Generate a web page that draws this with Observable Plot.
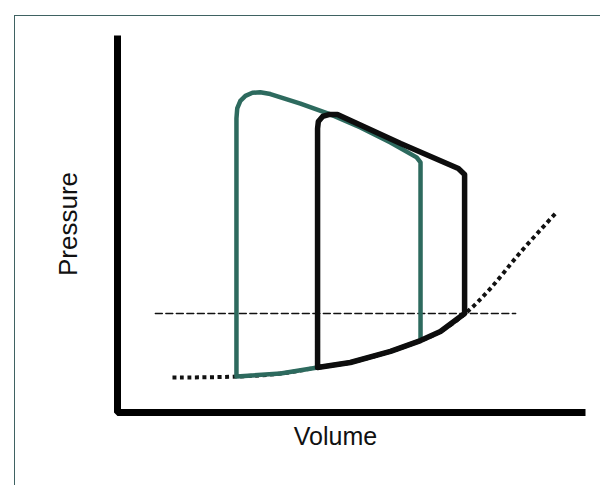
<!DOCTYPE html>
<html>
<head>
<meta charset="utf-8">
<script src="https://cdn.jsdelivr.net/npm/d3@7"></script>
<script src="https://cdn.jsdelivr.net/npm/@observablehq/plot@0.6"></script>
<style>
  html, body { margin: 0; padding: 0; background: #fff; overflow: hidden; }
  #wrap { position: relative; width: 600px; height: 485px; overflow: hidden; background: #fff; }
  #border { position: absolute; left: 14px; top: 15px; width: 700px; height: 700px;
            border-left: 1.5px solid #3f6262; border-top: 1.5px solid #3f6262; pointer-events: none; }
  #chart { position: absolute; left: 0; top: 0; }
</style>
</head>
<body>
<div id="wrap"><div id="border"></div><div id="chart"></div></div>
<script>
// End-diastolic pressure-volume relation (dotted curve)
const edpvrVolume   = [14.1, 30.5, 41.8, 51.3, 59.7, 70.0, 77.7, 82.8, 89.2, 95.6, 103.3, 112.3];
const edpvrPressure = [13.9, 14.3, 15.5, 17.9, 19.9, 24.3, 28.6, 32.2, 39.4, 49.3, 63.7, 79.2];

// Green (teal) loop
const greenVolume   = [30.5, 30.5, 30.7, 31.5, 32.8, 34.6, 36.6, 39.2, 46.9, 54.6, 62.3, 70.0, 76.7, 77.7, 77.7, 70.0, 59.7, 51.3, 41.8, 30.5];
const greenPressure = [14.3, 117.0, 121.0, 124.0, 126.0, 127.2, 127.4, 126.7, 122.9, 118.6, 113.4, 107.4, 101.5, 99.5, 28.6, 24.3, 19.9, 17.9, 15.5, 14.3];

// Black loop
const blackVolume   = [51.3, 51.3, 51.5, 52.6, 54.4, 56.4, 72.6, 87.4, 89.0, 89.0, 82.8, 77.7, 70.0, 59.7, 51.3];
const blackPressure = [17.9, 113.0, 115.8, 117.8, 118.6, 118.6, 107.0, 97.1, 94.7, 39.4, 32.2, 28.6, 24.3, 19.9, 17.9];

// Dashed reference pressure level
const dashedVolume   = [9.7, 102.1];
const dashedPressure = [39.4, 39.4];

// Axes (L-shaped)
const axisVolume   = [0, 0, 120];
const axisPressure = [150, 0, 0];

const xLabel = "Volume";
const yLabel = "Pressure";

const toPts = (xs, ys) => xs.map((x, i) => ({v: x, p: ys[i]}));

const chart = Plot.plot({
  width: 600,
  height: 485,
  marginLeft: 117,
  marginRight: 15,
  marginTop: 35,
  marginBottom: 73,
  x: {domain: [0, 120], axis: null},
  y: {domain: [0, 150], axis: null},
  style: {background: "transparent", fontFamily: "'Liberation Sans', Arial, Helvetica, sans-serif"},
  marks: [
    Plot.line(toPts(edpvrVolume, edpvrPressure), {x: "v", y: "p", stroke: "#111", strokeWidth: 4, strokeDasharray: "4,3.5", strokeLinecap: "butt", curve: "catmull-rom"}),
    Plot.line(toPts(dashedVolume, dashedPressure), {x: "v", y: "p", stroke: "#111", strokeWidth: 1.4, strokeDasharray: "7,3.5"}),
    Plot.line(toPts(greenVolume, greenPressure), {x: "v", y: "p", stroke: "#2d6a5e", strokeWidth: 4.5, strokeLinejoin: "round"}),
    Plot.line(toPts(blackVolume, blackPressure), {x: "v", y: "p", stroke: "#0d0d0d", strokeWidth: 5.5, strokeLinejoin: "round"}),
    Plot.line(toPts(axisVolume, axisPressure), {x: "v", y: "p", stroke: "#000", strokeWidth: 7, strokeLinejoin: "miter", strokeLinecap: "butt"}),
    Plot.text([yLabel], {frameAnchor: "left", textAnchor: "middle", dx: -49, rotate: -90, fontSize: 26, fill: "#111"}),
    Plot.text([xLabel], {frameAnchor: "bottom", textAnchor: "middle", dx: -16, dy: 32, fontSize: 25, fill: "#111"})
  ]
});
document.getElementById("chart").appendChild(chart);
</script>
</body>
</html>
